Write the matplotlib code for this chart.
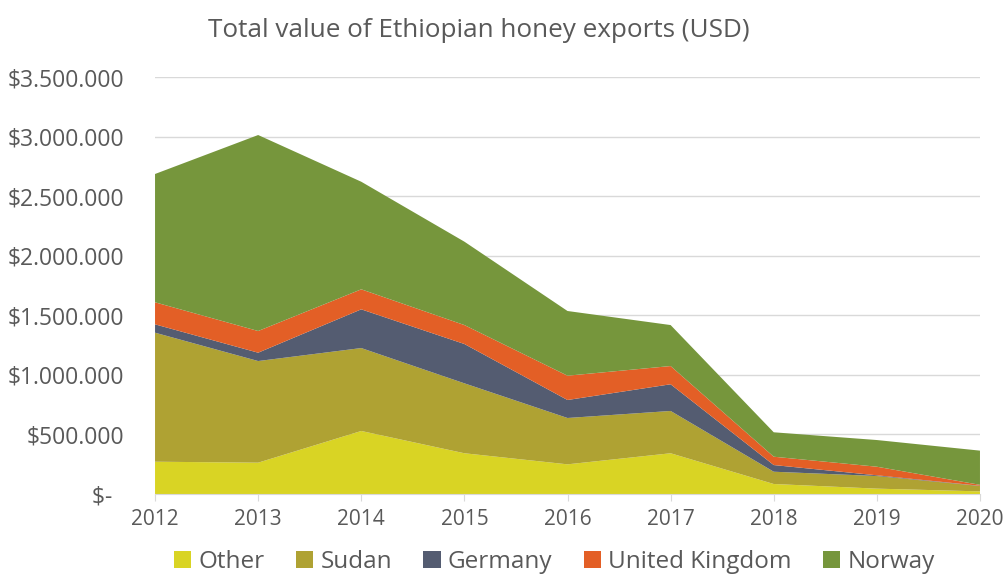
import matplotlib
matplotlib.use("Agg")
import matplotlib.pyplot as plt
from matplotlib.patches import Patch
from matplotlib.ticker import FuncFormatter

plt.rcParams['font.family'] = ['Open Sans', 'DejaVu Sans']

years = [2012, 2013, 2014, 2015, 2016, 2017, 2018, 2019, 2020]
other = [271000, 263000, 529000, 342000, 249000, 342000, 84000, 45000, 22000]
sudan = [1083000, 853000, 696000, 587000, 389000, 355000, 103000, 106000, 45000]
germany = [70000, 70000, 325000, 330000, 151000, 224000, 56000, 6000, 2000]
united_kingdom = [185000, 182000, 168000, 159000, 204000, 153000, 70000, 72000, 8000]
norway = [1077000, 1645000, 903000, 700000, 543000, 344000, 205000, 224000, 287000]

series_names = ["Other", "Sudan", "Germany", "United Kingdom", "Norway"]
colors = ["#D9D424", "#AFA233", "#545C71", "#E35F26", "#76963C"]
text_color = "#595959"

fig = plt.figure(figsize=(10.08, 5.79), dpi=100)
ax = fig.add_axes([0.1538, 0.1468, 0.8184, 0.7202])

ax.stackplot(years, other, sudan, germany, united_kingdom, norway,
             colors=colors, labels=series_names, linewidth=0, zorder=2)

ax.set_xlim(2012, 2020)
ax.set_ylim(0, 3500000)
ax.set_yticks(range(0, 3500001, 500000))
ax.set_xticks(years)

def fmt(v, pos):
    if v == 0:
        return "$-  "
    return "$" + f"{int(v):,}".replace(",", ".")
ax.yaxis.set_major_formatter(FuncFormatter(fmt))

ax.grid(axis='y', color="#D9D9D9", linewidth=1.0, zorder=0)
ax.set_axisbelow(True)
for s in ['top', 'right', 'left']:
    ax.spines[s].set_visible(False)
ax.spines['bottom'].set_color("#D9D9D9")
ax.spines['bottom'].set_zorder(3)
ax.tick_params(axis='y', length=0, labelsize=16.5, labelcolor=text_color, pad=22)
ax.tick_params(axis='x', length=5, color="#D9D9D9", labelsize=15,
               labelcolor=text_color, pad=6, direction='out')

fig.text(0.4747, 0.947, "Total value of Ethiopian honey exports (USD)",
         ha='center', va='center', fontsize=18.8, color=text_color)

handles = [Patch(facecolor=c, edgecolor='none', label=n) for c, n in zip(colors, series_names)]
leg = fig.legend(handles=handles, loc='center', bbox_to_anchor=(0.55, 0.03),
                 ncol=5, frameon=False, fontsize=17.5, handlelength=0.7,
                 handleheight=0.7, handletextpad=0.3, columnspacing=1.3,
                 borderaxespad=0)
for t in leg.get_texts():
    t.set_color(text_color)

fig.savefig("out.png", dpi=100)
